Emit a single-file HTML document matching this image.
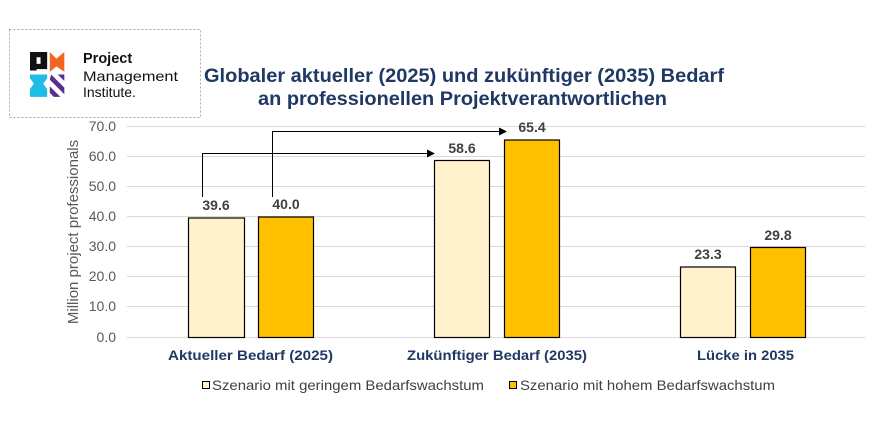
<!DOCTYPE html>
<html><head><meta charset="utf-8"><style>
html,body{margin:0;padding:0;background:#fff;}
svg{display:block;font-family:"Liberation Sans",Arial,sans-serif;}
</style></head><body>
<svg width="882" height="433" viewBox="0 0 882 433" xmlns="http://www.w3.org/2000/svg">
<defs>
<marker id="ah" markerWidth="8" markerHeight="8" refX="7" refY="4" orient="auto" markerUnits="userSpaceOnUse"><path d="M0,0 L8,4 L0,8 z" fill="#000"/></marker>
</defs>
<rect x="9.5" y="29.5" width="191" height="88" fill="#fff" stroke="#aaa" stroke-dasharray="2,2"/>
<!-- logo -->
<g transform="translate(30,52) scale(1.32)">
<path d="M0,0 L13,0 L13,13 L5,13 L5,14 L0,14 z M5,4 L5,9 L8,9 L8,4 z" fill="#111" fill-rule="evenodd"/>
<path d="M15,0 L20,5 L26,0 L26,15 L20,11 L15,15 z" fill="#f26522"/>
<path d="M0,17 L13,17 L13,20 L10,24 L13,28 L13,34 L0,34 L0,28 L3,24 L0,20 z" fill="#1fbde6"/>
<path d="M16,17 L26,27 L26,32 L15,21 z M15,26 L23,34 L18,34 L15,31 z M21,17 L26,17 L26,22 z" fill="#5b2d90"/>
</g>
<text x="83" y="63" font-size="14.5" font-weight="bold" fill="#111">Project</text>
<text x="83" y="81" font-size="14" fill="#111" textLength="95" lengthAdjust="spacingAndGlyphs">Management</text>
<text x="83" y="97" font-size="14" fill="#111">Institute.</text>
<!-- title -->
<text x="204" y="82" font-size="19" font-weight="bold" fill="#1f3864" textLength="520" lengthAdjust="spacingAndGlyphs">Globaler aktueller (2025) und zukünftiger (2035) Bedarf</text>
<text x="258" y="105" font-size="19" font-weight="bold" fill="#1f3864" textLength="409" lengthAdjust="spacingAndGlyphs">an professionellen Projektverantwortlichen</text>
<!-- grid -->
<g stroke="#d9d9d9" stroke-width="1">
<line x1="127" x2="865" y1="126.5" y2="126.5"/><line x1="127" x2="865" y1="156.5" y2="156.5"/>
<line x1="127" x2="865" y1="186.5" y2="186.5"/><line x1="127" x2="865" y1="216.5" y2="216.5"/>
<line x1="127" x2="865" y1="246.5" y2="246.5"/><line x1="127" x2="865" y1="276.5" y2="276.5"/>
<line x1="127" x2="865" y1="306.5" y2="306.5"/><line x1="127" x2="865" y1="337.5" y2="337.5"/>
</g>
<g font-size="14" fill="#595959" text-anchor="end">
<text x="116" y="131">70.0</text><text x="116" y="161">60.0</text><text x="116" y="191">50.0</text>
<text x="116" y="221">40.0</text><text x="116" y="251">30.0</text><text x="116" y="281">20.0</text>
<text x="116" y="311">10.0</text><text x="116" y="342">0.0</text>
</g>
<text transform="translate(78,232) rotate(-90)" font-size="15" fill="#595959" text-anchor="middle">Million project professionals</text>
<!-- bars -->
<g stroke="#000" stroke-width="1.2">
<rect x="188.5" y="218" width="56" height="119.5" fill="#fff2cc"/>
<rect x="258.5" y="217" width="55" height="120.5" fill="#ffc000"/>
<rect x="434.5" y="160.5" width="55" height="177" fill="#fff2cc"/>
<rect x="504.5" y="140" width="55" height="197.5" fill="#ffc000"/>
<rect x="680.5" y="267" width="55" height="70.5" fill="#fff2cc"/>
<rect x="750.5" y="247.5" width="55" height="90" fill="#ffc000"/>
</g>
<!-- arrows -->
<g fill="none" stroke="#000" stroke-width="1">
<polyline points="202.5,197 202.5,153.5 434,153.5" marker-end="url(#ah)"/>
<polyline points="272.5,197 272.5,131.5 506,131.5" marker-end="url(#ah)"/>
</g>
<!-- value labels -->
<g font-size="14" font-weight="bold" fill="#404040" text-anchor="middle">
<text x="216" y="210">39.6</text><text x="286" y="209">40.0</text>
<text x="462" y="153">58.6</text><text x="532" y="132">65.4</text>
<text x="708" y="259">23.3</text><text x="778" y="240">29.8</text>
</g>
<!-- categories -->
<g font-size="14" font-weight="bold" fill="#1f3864">
<text x="168" y="360" textLength="165" lengthAdjust="spacingAndGlyphs">Aktueller Bedarf (2025)</text>
<text x="407" y="360" textLength="180" lengthAdjust="spacingAndGlyphs">Zukünftiger Bedarf (2035)</text>
<text x="697" y="360" textLength="97" lengthAdjust="spacingAndGlyphs">Lücke in 2035</text>
</g>
<!-- legend -->
<rect x="202.5" y="381.5" width="7" height="7" fill="#fff2cc" stroke="#000"/>
<text x="212" y="390" font-size="14" fill="#404040" textLength="272" lengthAdjust="spacingAndGlyphs">Szenario mit geringem Bedarfswachstum</text>
<rect x="509.5" y="381.5" width="7" height="7" fill="#ffc000" stroke="#000"/>
<text x="520" y="390" font-size="14" fill="#404040" textLength="255" lengthAdjust="spacingAndGlyphs">Szenario mit hohem Bedarfswachstum</text>
</svg>
</body></html>
